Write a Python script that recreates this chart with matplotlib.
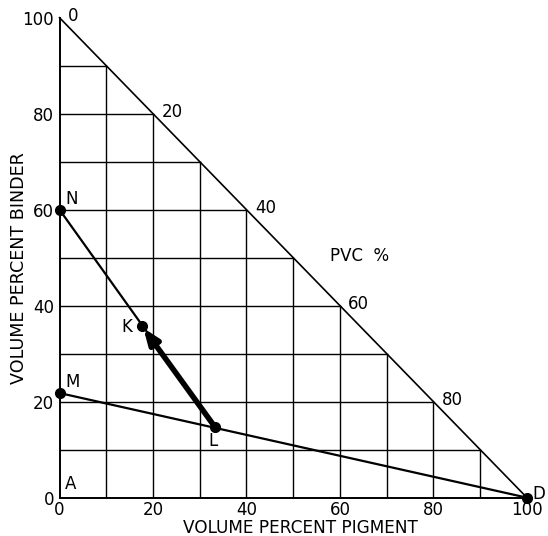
import matplotlib
matplotlib.use("Agg")
import matplotlib.pyplot as plt
import numpy as np

# Data
ticks = [0, 20, 40, 60, 80, 100]
grid_vals = [10, 20, 30, 40, 50, 60, 70, 80, 90]
pvc_labels = ["0", "20", "40", "60", "80"]
pvc_pos_x = [0, 20, 40, 60, 80]
point_names = ["N", "K", "L", "M", "D"]
point_x = [0, 17.6, 33.2, 0, 100]
point_y = [60, 35.8, 14.8, 21.8, 0]

W, H = 548, 536
fig = plt.figure(figsize=(W / 100, H / 100), dpi=100)
ax = fig.add_axes([0.1086, 0.0715, 0.853, 0.8955])
ax.set_xlim(0, 100)
ax.set_ylim(0, 100)
for s in ["top", "right"]:
    ax.spines[s].set_visible(False)
for s in ["left", "bottom"]:
    ax.spines[s].set_linewidth(1.4)
    ax.spines[s].set_zorder(5)

lw = 1.0
for g in grid_vals:
    ax.plot([g, g], [0, 100 - g], color="black", lw=lw)
    ax.plot([0, 100 - g], [g, g], color="black", lw=lw)
ax.plot([0, 100], [100, 0], color="black", lw=1.2, clip_on=False)

fs = 12
ax.set_xticks(ticks)
ax.set_yticks(ticks)
ax.set_xticklabels([str(t) for t in ticks], fontsize=fs)
ax.set_yticklabels([str(t) for t in ticks], fontsize=fs)
ax.tick_params(axis="y", length=0, pad=4)
ax.tick_params(axis="x", length=0, pad=2.5)

fig.text(300 / W, 1 - 528 / H, "VOLUME PERCENT PIGMENT", fontsize=12.2,
         ha="center", va="center")
fig.text(19 / W, 1 - 268 / H, "VOLUME PERCENT BINDER", fontsize=12.6,
         ha="center", va="center", rotation=90)

for lab, px in zip(pvc_labels, pvc_pos_x):
    ax.annotate(lab, (px, 100 - px), xytext=(6, 1.5), textcoords="offset points",
                fontsize=fs, ha="left", va="center", annotation_clip=False)
ax.text(57.9, 50.3, "PVC  %", fontsize=fs, ha="left", va="center")

N = (point_x[0], point_y[0]); K = (point_x[1], point_y[1]); L = (point_x[2], point_y[2])
M = (point_x[3], point_y[3]); D = (point_x[4], point_y[4])
ax.plot([N[0], L[0]], [N[1], L[1]], color="black", lw=1.6)
ax.plot([M[0], D[0]], [M[1], D[1]], color="black", lw=1.6, clip_on=False)
ax.annotate("", xy=K, xytext=L,
            arrowprops=dict(arrowstyle="-|>,head_length=0.9,head_width=0.35",
                            color="black", lw=4, shrinkA=0, shrinkB=2))
ax.plot(point_x, point_y, "o", color="black", ms=7, clip_on=False, zorder=6)

offs = {"N": (4, 8, "left"), "K": (-7, -1, "right"), "L": (-1, -10, "center"),
        "M": (4, 8, "left"), "D": (4, 3, "left")}
for name, x, y in zip(point_names, point_x, point_y):
    dx, dy, ha = offs[name]
    ax.annotate(name, (x, y), xytext=(dx, dy), textcoords="offset points",
                fontsize=fs, ha=ha, va="center", annotation_clip=False)
ax.annotate("A", (0, 0), xytext=(4, 10), textcoords="offset points", fontsize=fs,
            ha="left", va="center")

fig.savefig("out.png", dpi=100)
